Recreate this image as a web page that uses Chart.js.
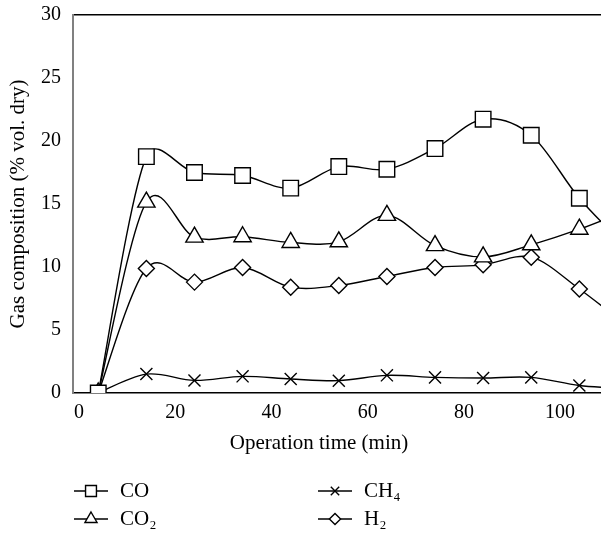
<!DOCTYPE html>
<html><head><meta charset="utf-8">
<script src="https://cdn.jsdelivr.net/npm/chart.js@4.4.1/dist/chart.umd.min.js"></script>
<style>html,body{margin:0;padding:0;background:#fff;overflow:hidden}#wrap{width:601px;height:537px;position:relative}</style>
</head><body><div id="wrap"><canvas id="c"></canvas></div>
<script>
const timeMin = [4, 14, 24, 34, 44, 54, 64, 74, 84, 94, 104, 114];
const coValues  = [0, 18.76, 17.5, 17.26, 16.26, 17.97, 17.76, 19.4, 21.73, 20.46, 15.46, 11.5];
const co2Values = [0, 15.15, 12.37, 12.4, 11.95, 12.0, 14.1, 11.7, 10.8, 11.76, 13.0, 14.5];
const ch4Values = [0, 1.5, 1.0, 1.32, 1.11, 0.98, 1.4, 1.24, 1.19, 1.24, 0.6, 0.35];
const h2Values  = [0, 9.88, 8.8, 9.96, 8.4, 8.53, 9.25, 9.96, 10.17, 10.78, 8.25, 5.3];
const seriesLabels = ['CO', 'CO\u2082', 'CH\u2084', 'H\u2082'];
const xTickValues = [0, 20, 40, 60, 80, 100];
const yTickValues = [0, 5, 10, 15, 20, 25, 30];
const xTitle = 'Operation time (min)';
const yTitle = 'Gas composition (% vol. dry)';

const FONT = "'Liberation Serif', 'DejaVu Serif', serif";
const toPts = vals => vals.map((v, i) => ({x: timeMin[i], y: v}));

function ds(label, vals, style, radius) {
  return {
    label, data: toPts(vals),
    borderColor: '#000', borderWidth: 1.4,
    pointStyle: style, pointRadius: radius, pointHoverRadius: radius,
    pointBackgroundColor: '#fff', pointBorderColor: '#000', pointBorderWidth: 1.4,
    tension: 0.4, fill: false
  };
}

// Uniform Catmull-Rom style smoothing computed from the library's pixel positions
const smoothPlugin = {
  id: 'smooth',
  beforeDatasetDraw(chart, args) {
    const meta = args.meta;
    const pts = meta.data;
    const k = 1 / 6;
    for (let i = 0; i < pts.length; i++) {
      const p = pts[i];
      const prev = pts[i - 1] || p, next = pts[i + 1] || p;
      const dx = (next.x - prev.x) * k, dy = (next.y - prev.y) * k;
      const lc = Math.hypot(dx, dy) || 1;
      const lp = Math.hypot(p.x - prev.x, p.y - prev.y);
      const ln = Math.hypot(next.x - p.x, next.y - p.y);
      const s1 = Math.min(1, 0.5 * lp / lc), s2 = Math.min(1, 0.5 * ln / lc);
      p.cp1x = p.x - dx * s1; p.cp1y = p.y - dy * s1;
      p.cp2x = p.x + dx * s2; p.cp2y = p.y + dy * s2;
    }
    meta.dataset._pointsUpdated = true;
  }
};

const legendPlugin = {
  id: 'legendAndTitle',
  afterDraw(chart) {
    const ctx = chart.ctx;
    const a = chart.chartArea;
    ctx.save();
    ctx.fillStyle = '#000';
    ctx.font = '21px ' + FONT;
    ctx.textAlign = 'center';
    ctx.textBaseline = 'middle';
    ctx.fillText(xTitle, (a.left + a.right) / 2 - 18, 443);
    const cols = [74, 318];
    const rows = [491, 519];
    chart.data.datasets.forEach((d, i) => {
      const x0 = cols[Math.floor(i / 2)], y = rows[i % 2];
      ctx.strokeStyle = '#000';
      ctx.lineWidth = 1.4;
      ctx.beginPath(); ctx.moveTo(x0, y); ctx.lineTo(x0 + 34, y); ctx.stroke();
      ctx.fillStyle = '#fff';
      Chart.helpers.drawPoint(ctx, {pointStyle: d.pointStyle, radius: d.pointRadius * 0.7, borderWidth: 1.4, rotation: 0}, x0 + 17, y);
      ctx.fillStyle = '#000';
      ctx.textAlign = 'left';
      ctx.fillText(d.label, x0 + 46, y);
    });
    ctx.restore();
  }
};

new Chart(document.getElementById('c'), {
  type: 'line',
  data: {
    datasets: [
      ds(seriesLabels[0], coValues, 'rect', 11),
      ds(seriesLabels[1], co2Values, 'triangle', 10),
      ds(seriesLabels[2], ch4Values, 'crossRot', 8.5),
      ds(seriesLabels[3], h2Values, 'rectRot', 8)
    ]
  },
  options: {
    responsive: true, maintainAspectRatio: false, animation: false,
    layout: {autoPadding: false, padding: {top: 15, right: 0, bottom: 0, left: 0}},
    plugins: {legend: {display: false}, tooltip: {enabled: false}},
    scales: {
      x: {
        type: 'linear', position: 'bottom', min: -1.25, max: 108.5,
        grid: {display: false, drawTicks: false},
        border: {display: true, color: '#000', width: 1.5},
        ticks: {color: '#000', font: {family: FONT, size: 20}, padding: 8, autoSkip: false, maxRotation: 0},
        afterBuildTicks: s => { s.ticks = xTickValues.map(v => ({value: v})); },
        afterFit: s => { s.height = 144; s.paddingLeft = 0; s.paddingRight = 0; }
      },
      xTop: {
        type: 'linear', position: 'top', min: 0, max: 1,
        grid: {display: false, drawTicks: false},
        border: {display: true, color: '#000', width: 1.5},
        ticks: {display: false},
        afterFit: s => { s.height = 0; }
      },
      y: {
        min: 0, max: 30,
        grid: {display: false, drawTicks: false},
        border: {display: true, color: '#808080', width: 2},
        ticks: {color: '#000', font: {family: FONT, size: 20}, padding: 12},
        afterBuildTicks: s => { s.ticks = yTickValues.map(v => ({value: v})); },
        title: {display: true, text: yTitle, color: '#000', font: {family: FONT, size: 21}, padding: {top: 6, bottom: 0}},
        afterFit: s => { s.width = 73; s.paddingTop = 0; s.paddingBottom = 0; }
      }
    }
  },
  plugins: [smoothPlugin, legendPlugin]
});
</script></body></html>
